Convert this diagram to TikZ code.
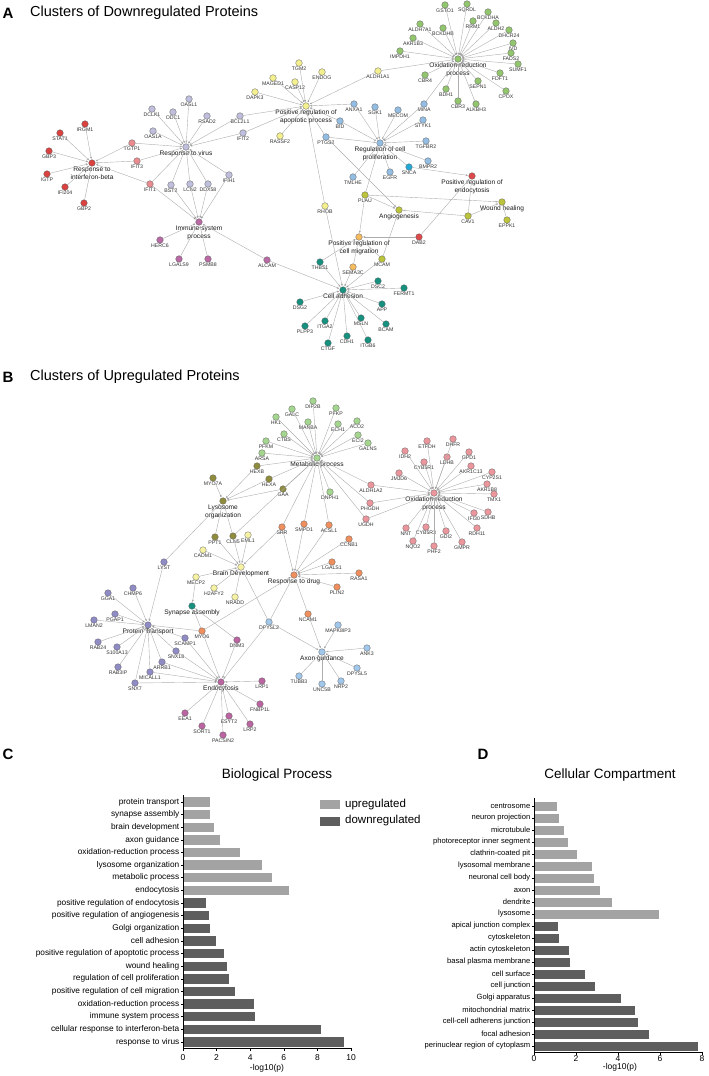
\documentclass[tikz,border=0pt]{standalone}
\usepackage{fontspec}
\setmainfont{Liberation Sans}
\usepackage{tikz}
\usetikzlibrary{arrows.meta}
\definecolor{edgegray}{HTML}{ADADAD}
\definecolor{cIfn}{HTML}{D9423F}
\definecolor{cIfit}{HTML}{EA8B90}
\definecolor{cVir}{HTML}{BFBEDC}
\definecolor{cImm}{HTML}{B96AA5}
\definecolor{cApo}{HTML}{F4F08F}
\definecolor{cPro}{HTML}{94BDE4}
\definecolor{cSnc}{HTML}{22A9D8}
\definecolor{cOxA}{HTML}{92C56D}
\definecolor{cEnA}{HTML}{DC4A4A}
\definecolor{cAng}{HTML}{BCC43B}
\definecolor{cMig}{HTML}{F4BB61}
\definecolor{cAdh}{HTML}{16907F}
\definecolor{cMet}{HTML}{A5D68F}
\definecolor{cLys}{HTML}{8F8D3D}
\definecolor{cOxB}{HTML}{EB969C}
\definecolor{cDrug}{HTML}{EF8F5D}
\definecolor{cBrain}{HTML}{F6F2A4}
\definecolor{cPT}{HTML}{8F8BC5}
\definecolor{cEnB}{HTML}{BA64A1}
\definecolor{cAx}{HTML}{A1C7EA}
\definecolor{upbar}{HTML}{A3A3A3}
\definecolor{downbar}{HTML}{5E5E5E}

\tikzset{
  gene/.style={circle, draw=black!65, line width=0.3pt, minimum size=6.6pt, inner sep=0pt},
  glab/.style={font=\fontsize{5.2}{5.7}\selectfont, text=black!80, inner sep=0.4pt},
  hlab/.style={font=\fontsize{6.6}{8}\selectfont, align=center, inner sep=0.4pt, text=black!90},
  glabel/.style={label={[glab]below:#1}},
  hlabel/.style={label={[hlab]below:#1}},
  link/.style={draw=edgegray, line width=0.4pt, -{Stealth[length=2.4pt,width=1.9pt]}, shorten >=0.6pt},
  plabel/.style={font=\fontsize{15}{15}\selectfont\bfseries, inner sep=0pt},
  ptitle/.style={font=\fontsize{14.5}{16}\selectfont, anchor=west, inner sep=0pt},
  ctitle/.style={font=\fontsize{13.5}{15}\selectfont, inner sep=0pt},
  blab/.style={font=\fontsize{8.3}{9}\selectfont, anchor=east, inner sep=0pt},
  dlab/.style={font=\fontsize{7.6}{8}\selectfont, anchor=east, inner sep=0pt},
  ticklab/.style={font=\fontsize{8.5}{9}\selectfont, inner sep=0pt},
  chartaxis/.style={line width=0.6pt, black},
  % clusters of panel A
  ifn/.style={gene, fill=cIfn}, ifit/.style={gene, fill=cIfit}, vir/.style={gene, fill=cVir},
  imm/.style={gene, fill=cImm}, apo/.style={gene, fill=cApo}, pro/.style={gene, fill=cPro},
  snc/.style={gene, fill=cSnc}, oxa/.style={gene, fill=cOxA}, ena/.style={gene, fill=cEnA},
  ang/.style={gene, fill=cAng}, mig/.style={gene, fill=cMig}, adh/.style={gene, fill=cAdh},
  % clusters of panel B
  met/.style={gene, fill=cMet}, lys/.style={gene, fill=cLys}, oxb/.style={gene, fill=cOxB},
  drug/.style={gene, fill=cDrug}, brain/.style={gene, fill=cBrain}, pt/.style={gene, fill=cPT},
  enb/.style={gene, fill=cEnB}, ax/.style={gene, fill=cAx},
}

\begin{document}
\begin{tikzpicture}[x=1pt, y=-1pt]
    \useasboundingbox (0,0) rectangle (709,1076);
    \node[plabel] at(8,13)(A){A};
    \node[ptitle] at(30,13)(titleA){Clusters of Downregulated Proteins};
    % response to interferon-beta
    \node[ifn, hlabel={Response to\\interferon-beta}] at(92,163)(ifnb){};
    \node[ifn, glabel=STAT1] at(60,133)(STAT1){};
    \node[ifn, glabel=IRGM1] at(85,124)(IRGM1){};
    \node[ifn, glabel=GBP3] at(49,151)(GBP3){};
    \node[ifn, glabel=IGTP] at(47,174)(IGTP){};
    \node[ifn, glabel=IFI204] at(65,187)(IFI204){};
    \node[ifn, glabel=GBP2] at(84,203)(GBP2){};
    \node[ifit, glabel=TGTP1] at(132,143)(TGTP1){};
    \node[ifit, glabel=IFIT3] at(137,161)(IFIT3){};
    \node[ifit, glabel=IFIT1] at(150,184)(IFIT1){};
    % response to virus
    \node[vir, hlabel={Response to virus}] at(186,147)(virus){};
    \node[vir, glabel=DCLK1] at(152,109)(DCLK1){};
    \node[vir, glabel=ODC1] at(173,112)(ODC1){};
    \node[vir, glabel=OASL1] at(189,99)(OASL1){};
    \node[vir, glabel=RSAD2] at(207,116)(RSAD2){};
    \node[vir, glabel=OAS1A] at(153,131)(OAS1A){};
    \node[vir, glabel=BCL2L1] at(240,116)(BCL2L1){};
    \node[vir, glabel=IFIT2] at(243,133)(IFIT2){};
    \node[vir, glabel=BST2] at(171,185)(BST2){};
    \node[vir, glabel=LCN2] at(190,184)(LCN2){};
    \node[vir, glabel=DDX58] at(208,184)(DDX58){};
    \node[vir, glabel=IFIH1] at(229,175)(IFIH1){};
    % immune system process
    \node[imm, hlabel={Immune system\\process}] at(199,222)(immune){};
    \node[imm, glabel=HERC6] at(160,240)(HERC6){};
    \node[imm, glabel=LGALS9] at(179,259)(LGALS9){};
    \node[imm, glabel=PSMB8] at(208,259)(PSMB8){};
    \node[imm, glabel=ALCAM] at(267,260)(ALCAM){};
    % positive regulation of apoptotic process
    \node[apo, hlabel={Positive regulation of\\apoptotic process}] at(306,106)(apop){};
    \node[apo, glabel=TGM2] at(299,63)(TGM2){};
    \node[apo, glabel=ENDOG] at(322,72)(ENDOG){};
    \node[apo, glabel=MAGED1] at(273,78)(MAGED1){};
    \node[apo, glabel=CASP12] at(295,82)(CASP12){};
    \node[apo, glabel=DAPK3] at(255,92)(DAPK3){};
    \node[apo, glabel=RASSF2] at(280,136)(RASSF2){};
    \node[apo, glabel=ALDH1A1] at(378,71)(ALDH1A1){};
    \node[apo, glabel=RHOB] at(325,206)(RHOB){};
    % regulation of cell proliferation
    \node[pro, hlabel={Regulation of cell\\proliferation}] at(380,143)(prolif){};
    \node[pro, glabel=ANXA1] at(354,104)(ANXA1){};
    \node[pro, glabel=BID] at(340,121)(BID){};
    \node[pro, glabel=PTGS2] at(326,137)(PTGS2){};
    \node[pro, glabel=SGK1] at(375,107)(SGK1){};
    \node[pro, glabel=MECOM] at(398,110)(MECOM){};
    \node[pro, glabel=MINA] at(424,104)(MINA){};
    \node[pro, glabel=STYK1] at(423,120)(STYK1){};
    \node[pro, glabel=TGFBR2] at(426,141)(TGFBR2){};
    \node[pro, glabel=BMPR2] at(428,161)(BMPR2){};
    \node[pro, glabel=EGFR] at(390,172)(EGFR){};
    \node[pro, glabel=TMLHE] at(353,177)(TMLHE){};
    \node[snc, glabel=SNCA] at(409,167)(SNCA){};
    % oxidation-reduction process
    \node[oxa, hlabel={Oxidation-reduction\\process}] at(458,59)(oxA){};
    \node[oxa, glabel=GSTO1] at(445,5)(GSTO1){};
    \node[oxa, glabel=SQRDL] at(467,4)(SQRDL){};
    \node[oxa, glabel=BCKDHA] at(488,12)(BCKDHA){};
    \node[oxa, glabel=RRM1] at(473,21)(RRM1){};
    \node[oxa, glabel=ALDH2] at(496,23)(ALDH2){};
    \node[oxa, glabel=DHCR24] at(509,30)(DHCR24){};
    \node[oxa, glabel=ALDH7A1] at(420,24)(ALDH7A1){};
    \node[oxa, glabel=BCKDHB] at(443,28)(BCKDHB){};
    \node[oxa, glabel=AKR1B3] at(413,38)(AKR1B3){};
    \node[oxa, glabel=IMPDH1] at(400,51)(IMPDH1){};
    \node[oxa, glabel=IVD] at(513,43)(IVD){};
    \node[oxa, glabel=FADS2] at(511,53)(FADS2){};
    \node[oxa, glabel=SUMF1] at(518,64)(SUMF1){};
    \node[oxa, glabel=FDFT1] at(500,73)(FDFT1){};
    \node[oxa, glabel=CPOX] at(506,91)(CPOX){};
    \node[oxa, glabel=SEPN1] at(478,81)(SEPN1){};
    \node[oxa, glabel=ALKBH3] at(476,104)(ALKBH3){};
    \node[oxa, glabel=CBR3] at(458,101)(CBR3){};
    \node[oxa, glabel=BDH1] at(446,89)(BDH1){};
    \node[oxa, glabel=CBR4] at(425,75)(CBR4){};
    % endocytosis, wound healing, angiogenesis, migration
    \node[ena, hlabel={Positive regulation of\\endocytosis}] at(472,176)(endoA){};
    \node[ena, glabel=DAB2] at(419,237)(DAB2){};
    \node[ang, hlabel={Wound healing}] at(502,202)(wound){};
    \node[ang, hlabel={Angiogenesis}] at(399,210)(angio){};
    \node[ang, glabel=PLAU] at(365,195)(PLAU){};
    \node[ang, glabel=CAV1] at(468,216)(CAV1){};
    \node[ang, glabel=EPPK1] at(507,220)(EPPK1){};
    \node[ang, glabel=MCAM] at(382,259)(MCAM){};
    \node[mig, hlabel={Positive regulation of\\cell migration}] at(359,237)(migr){};
    \node[mig, glabel=SEMA3C] at(353,267)(SEMA3C){};
    % cell adhesion
    \node[adh, hlabel={Cell adhesion}] at(343,290)(adh){};
    \node[adh, glabel=THBS1] at(320,262)(THBS1){};
    \node[adh, glabel=DSG2] at(300,302)(DSG2){};
    \node[adh, glabel=ITGA2] at(325,321)(ITGA2){};
    \node[adh, glabel=PLPP3] at(305,326)(PLPP3){};
    \node[adh, glabel=CDH1] at(347,336)(CDH1){};
    \node[adh, glabel=CTGF] at(328,343)(CTGF){};
    \node[adh, glabel=DSC2] at(378,281)(DSC2){};
    \node[adh, glabel=FERMT1] at(404,288)(FERMT1){};
    \node[adh, glabel=APP] at(382,304)(APP){};
    \node[adh, glabel=MSLN] at(361,318)(MSLN){};
    \node[adh, glabel=BCAM] at(386,324)(BCAM){};
    \node[adh, glabel=ITGB6] at(368,340)(ITGB6){};
    % links of panel A
    \draw[link] (STAT1) edge (ifnb) (IRGM1) edge (ifnb) (GBP3) edge (ifnb) (IGTP) edge (ifnb) (IFI204) edge (ifnb) (GBP2) edge (ifnb) (TGTP1) edge (ifnb) (IFIT3) edge (ifnb) (IFIT1) edge (ifnb);
    \draw[link] (DCLK1) edge (virus) (ODC1) edge (virus) (OASL1) edge (virus) (RSAD2) edge (virus) (OAS1A) edge (virus) (TGTP1) edge (virus) (IFIT3) edge (virus) (BCL2L1) edge (virus) (IFIT2) edge (virus) (IFIT1) edge (virus) (BST2) edge (virus) (LCN2) edge (virus) (DDX58) edge (virus) (IFIH1) edge (virus);
    \draw[link] (IFIT1) edge (immune) (BST2) edge (immune) (LCN2) edge (immune) (DDX58) edge (immune) (IFIH1) edge (immune) (HERC6) edge (immune) (LGALS9) edge (immune) (PSMB8) edge (immune) (ALCAM) edge (immune);
    \draw[link] (TGM2) edge (apop) (ENDOG) edge (apop) (MAGED1) edge (apop) (CASP12) edge (apop) (DAPK3) edge (apop) (BCL2L1) edge (apop) (IFIT2) edge (apop) (RASSF2) edge (apop) (ALDH1A1) edge (apop) (ANXA1) edge (apop) (BID) edge (apop) (PTGS2) edge (apop) (RHOB) edge (apop);
    \draw[link] (ANXA1) edge (prolif) (BID) edge (prolif) (PTGS2) edge (prolif) (SGK1) edge (prolif) (MECOM) edge (prolif) (MINA) edge (prolif) (STYK1) edge (prolif) (TGFBR2) edge (prolif) (BMPR2) edge (prolif) (SNCA) edge (prolif) (EGFR) edge (prolif) (TMLHE) edge (prolif) (PLAU) edge (prolif);
    \draw[link] (GSTO1) edge (oxA) (SQRDL) edge (oxA) (BCKDHA) edge (oxA) (RRM1) edge (oxA) (ALDH2) edge (oxA) (DHCR24) edge (oxA) (ALDH7A1) edge (oxA) (BCKDHB) edge (oxA) (AKR1B3) edge (oxA) (IMPDH1) edge (oxA) (IVD) edge (oxA) (FADS2) edge (oxA) (SUMF1) edge (oxA) (FDFT1) edge (oxA) (CPOX) edge (oxA) (SEPN1) edge (oxA) (ALKBH3) edge (oxA) (CBR3) edge (oxA) (BDH1) edge (oxA) (CBR4) edge (oxA) (ALDH1A1) edge (oxA) (MINA) edge (oxA);
    \draw[link] (SNCA) edge (endoA) (CAV1) edge (endoA) (DAB2) edge (endoA);
    \draw[link] (PLAU) edge (wound) (CAV1) edge (wound) (EPPK1) edge (wound);
    \draw[link] (PLAU) edge (angio) (PTGS2) edge (angio) (CAV1) edge (angio) (MCAM) edge (angio);
    \draw[link] (PLAU) edge (migr) (DAB2) edge (migr) (SEMA3C) edge (migr) (THBS1) edge (migr) (MCAM) edge (migr);
    \draw[link] (THBS1) edge (adh) (ALCAM) edge (adh) (RHOB) edge (adh) (SEMA3C) edge (adh) (MCAM) edge (adh) (DSC2) edge (adh) (FERMT1) edge (adh) (APP) edge (adh) (MSLN) edge (adh) (BCAM) edge (adh) (ITGB6) edge (adh) (CDH1) edge (adh) (CTGF) edge (adh) (ITGA2) edge (adh) (PLPP3) edge (adh) (DSG2) edge (adh);
    %
    \node[plabel] at(8,377)(B){B};
    \node[ptitle] at(30,377)(titleB){Clusters of Upregulated Proteins};
    % metabolic process
    \node[met, hlabel={Metabolic process}] at(317,458)(metab){};
    \node[met, glabel=DIP2B] at(313,401)(DIP2B){};
    \node[met, glabel=GALC] at(292,409)(GALC){};
    \node[met, glabel=PFKP] at(336,408)(PFKP){};
    \node[met, glabel=HK1] at(276,417)(HK1){};
    \node[met, glabel=MANBA] at(308,422)(MANBA){};
    \node[met, glabel=ECH1] at(338,424)(ECH1){};
    \node[met, glabel=ACO2] at(357,421)(ACO2){};
    \node[met, glabel=CTBS] at(284,434)(CTBS){};
    \node[met, glabel=PFKM] at(266,441)(PFKM){};
    \node[met, glabel=ARSA] at(262,453)(ARSA){};
    \node[met, glabel=ECI2] at(358,435)(ECI2){};
    \node[met, glabel=GALNS] at(368,443)(GALNS){};
    \node[met, glabel=DNPH1] at(330,492)(DNPH1){};
    % lysosome organization
    \node[lys, hlabel={Lysosome\\organization}] at(223,501)(lyso){};
    \node[lys, glabel=HEXB] at(257,466)(HEXB){};
    \node[lys, glabel=HEXA] at(269,479)(HEXA){};
    \node[lys, glabel=GAA] at(283,489)(GAA){};
    \node[lys, glabel=MYO7A] at(213,478)(MYO7A){};
    \node[lys, glabel=PPT1] at(215,537)(PPT1){};
    \node[lys, glabel=CLN5] at(233,536)(CLN5){};
    % oxidation-reduction process
    \node[oxb, hlabel={Oxidation-reduction\\process}] at(434,493)(oxB){};
    \node[oxb, glabel=ETFDH] at(427,441)(ETFDH){};
    \node[oxb, glabel=DHFR] at(453,439)(DHFR){};
    \node[oxb, glabel=IDH2] at(405,451)(IDH2){};
    \node[oxb, glabel=GPD1] at(469,452)(GPD1){};
    \node[oxb, glabel=CYB5R1] at(424,462)(CYB5R1){};
    \node[oxb, glabel=LDHB] at(447,457)(LDHB){};
    \node[oxb, glabel=AKR1C13] at(471,466)(AKR1C13){};
    \node[oxb, glabel=JMJD6] at(399,473)(JMJD6){};
    \node[oxb, glabel=CYP2S1] at(492,472)(CYP2S1){};
    \node[oxb, glabel=AKR1B8] at(487,484)(AKR1B8){};
    \node[oxb, glabel=TMX1] at(494,494)(TMX1){};
    \node[oxb, glabel=ALDH1A2] at(371,485)(ALDH1A2){};
    \node[oxb, glabel=PHGDH] at(370,503)(PHGDH){};
    \node[oxb, glabel=UGDH] at(366,519)(UGDH){};
    \node[oxb, glabel=IFI30] at(474,513)(IFI30){};
    \node[oxb, glabel=SDHB] at(488,512)(SDHB){};
    \node[oxb, glabel=NNT] at(406,528)(NNT){};
    \node[oxb, glabel=CYB5R3] at(426,527)(CYB5R3){};
    \node[oxb, glabel=GDI2] at(446,531)(GDI2){};
    \node[oxb, glabel=RDH11] at(477,528)(RDH11){};
    \node[oxb, glabel=NQO2] at(413,541)(NQO2){};
    \node[oxb, glabel=PHF2] at(434,546)(PHF2){};
    \node[oxb, glabel=GMPR] at(462,542)(GMPR){};
    % response to drug
    \node[drug, hlabel={Response to drug}] at(294,575)(drug){};
    \node[drug, glabel=SRR] at(282,527)(SRR){};
    \node[drug, glabel=SMPD1] at(304,524)(SMPD1){};
    \node[drug, glabel=ACSL1] at(329,525)(ACSL1){};
    \node[drug, glabel=CCNB1] at(349,539)(CCNB1){};
    \node[drug, glabel=LGALS1] at(332,562)(LGALS1){};
    \node[drug, glabel=RASA1] at(359,573)(RASA1){};
    \node[drug, glabel=PLIN2] at(337,587)(PLIN2){};
    \node[drug, glabel=NCAM1] at(308,614)(NCAM1){};
    \node[drug, glabel=MYO6] at(202,631)(MYO6){};
    % brain development, synapse assembly
    \node[brain, hlabel={Brain Development}] at(241,567)(brainD){};
    \node[brain, glabel=EML1] at(248,535)(EML1){};
    \node[brain, glabel=CADM1] at(203,550)(CADM1){};
    \node[brain, glabel=MECP2] at(196,577)(MECP2){};
    \node[brain, glabel=H2AFY2] at(214,588)(H2AFY2){};
    \node[brain, glabel=NRADD] at(235,597)(NRADD){};
    \node[adh, hlabel={Synapse assembly}] at(192,606)(synap){};
    % protein transport
    \node[pt, hlabel={Protein Transport}] at(148,625)(ptrans){};
    \node[pt, glabel=LYST] at(164,562)(LYST){};
    \node[pt, glabel=CHMP6] at(133,588)(CHMP6){};
    \node[pt, glabel=GGA1] at(108,593)(GGA1){};
    \node[pt, glabel=PGAP1] at(115,614)(PGAP1){};
    \node[pt, glabel=LMAN2] at(94,620)(LMAN2){};
    \node[pt, glabel=RAB24] at(98,642)(RAB24){};
    \node[pt, glabel=S100A13] at(117,647)(S100A13){};
    \node[pt, glabel=RAB3IP] at(118,667)(RAB3IP){};
    \node[pt, glabel=SNX7] at(135,683)(SNX7){};
    \node[pt, glabel=MICALL1] at(150,672)(MICALL1){};
    \node[pt, glabel=ARRB1] at(162,662)(ARRB1){};
    \node[pt, glabel=SNX18] at(176,651)(SNX18){};
    \node[pt, glabel=SCAMP1] at(185,638)(SCAMP1){};
    % endocytosis
    \node[enb, hlabel={Endocytosis}] at(221,682)(endoB){};
    \node[enb, glabel=DNM3] at(237,640)(DNM3){};
    \node[enb, glabel=LRP1] at(262,681)(LRP1){};
    \node[enb, glabel=FNBP1L] at(260,704)(FNBP1L){};
    \node[enb, glabel=EEA1] at(185,713)(EEA1){};
    \node[enb, glabel=ESYT2] at(229,716)(ESYT2){};
    \node[enb, glabel=SORT1] at(202,726)(SORT1){};
    \node[enb, glabel=LRP2] at(250,724)(LRP2){};
    \node[enb, glabel=PACSIN2] at(223,735)(PACSIN2){};
    % axon guidance
    \node[ax, hlabel={Axon guidance}] at(322,652)(axon){};
    \node[ax, glabel=DPYSL2] at(269,622)(DPYSL2){};
    \node[ax, glabel=MAPK8IP3] at(338,625)(MAPK8IP3){};
    \node[ax, glabel=ANK3] at(367,648)(ANK3){};
    \node[ax, glabel=DPYSL5] at(357,668)(DPYSL5){};
    \node[ax, glabel=NRP2] at(341,681)(NRP2){};
    \node[ax, glabel=UNC5B] at(322,684)(UNC5B){};
    \node[ax, glabel=TUBB3] at(299,676)(TUBB3){};
    % links of panel B
    \draw[link] (DIP2B) edge (metab) (GALC) edge (metab) (PFKP) edge (metab) (HK1) edge (metab) (MANBA) edge (metab) (ECH1) edge (metab) (ACO2) edge (metab) (CTBS) edge (metab) (PFKM) edge (metab) (ARSA) edge (metab) (ECI2) edge (metab) (GALNS) edge (metab) (DNPH1) edge (metab) (HEXB) edge (metab) (HEXA) edge (metab) (GAA) edge (metab) (ALDH1A2) edge (metab) (PHGDH) edge (metab) (UGDH) edge (metab) (SRR) edge (metab) (SMPD1) edge (metab) (ACSL1) edge (metab) (CLN5) edge (metab);
    \draw[link] (MYO7A) edge (lyso) (HEXB) edge (lyso) (HEXA) edge (lyso) (GAA) edge (lyso) (PPT1) edge (lyso) (CLN5) edge (lyso) (LYST) edge (lyso);
    \draw[link] (ETFDH) edge (oxB) (DHFR) edge (oxB) (IDH2) edge (oxB) (GPD1) edge (oxB) (CYB5R1) edge (oxB) (LDHB) edge (oxB) (AKR1C13) edge (oxB) (JMJD6) edge (oxB) (CYP2S1) edge (oxB) (AKR1B8) edge (oxB) (TMX1) edge (oxB) (ALDH1A2) edge (oxB) (PHGDH) edge (oxB) (UGDH) edge (oxB) (IFI30) edge (oxB) (SDHB) edge (oxB) (NNT) edge (oxB) (CYB5R3) edge (oxB) (GDI2) edge (oxB) (RDH11) edge (oxB) (NQO2) edge (oxB) (PHF2) edge (oxB) (GMPR) edge (oxB);
    \draw[link] (PPT1) edge (brainD) (CLN5) edge (brainD) (EML1) edge (brainD) (CADM1) edge (brainD) (MECP2) edge (brainD) (H2AFY2) edge (brainD) (NRADD) edge (brainD) (DPYSL2) edge (brainD) (SRR) edge (brainD);
    \draw[link] (SRR) edge (drug) (SMPD1) edge (drug) (ACSL1) edge (drug) (CCNB1) edge (drug) (LGALS1) edge (drug) (RASA1) edge (drug) (PLIN2) edge (drug) (NCAM1) edge (drug) (DPYSL2) edge (drug) (MYO6) edge (drug);
    \draw[link] (MECP2) edge (synap) (MYO6) edge (synap) (DNM3) edge (synap);
    \draw[link] (LYST) edge (ptrans) (CHMP6) edge (ptrans) (GGA1) edge (ptrans) (PGAP1) edge (ptrans) (LMAN2) edge (ptrans) (RAB24) edge (ptrans) (S100A13) edge (ptrans) (RAB3IP) edge (ptrans) (SNX7) edge (ptrans) (MICALL1) edge (ptrans) (ARRB1) edge (ptrans) (SNX18) edge (ptrans) (SCAMP1) edge (ptrans) (MYO6) edge (ptrans);
    \draw[link] (SCAMP1) edge (endoB) (SNX18) edge (endoB) (ARRB1) edge (endoB) (MICALL1) edge (endoB) (SNX7) edge (endoB) (MYO6) edge (endoB) (DNM3) edge (endoB) (DPYSL2) edge (endoB) (LRP1) edge (endoB) (FNBP1L) edge (endoB) (EEA1) edge (endoB) (ESYT2) edge (endoB) (SORT1) edge (endoB) (LRP2) edge (endoB) (PACSIN2) edge (endoB);
    \draw[link] (DPYSL2) edge (axon) (NCAM1) edge (axon) (MAPK8IP3) edge (axon) (ANK3) edge (axon) (DPYSL5) edge (axon) (NRP2) edge (axon) (UNC5B) edge (axon) (TUBB3) edge (axon);
    %
    % C: biological process
    \node[plabel] at(8,754)(C){C};
    \node[ctitle] at(277,775)(bpTitle){Biological Process};
    \foreach \lab/\val [count=\i from 0] in {protein transport/1.6, synapse assembly/1.6, brain development/1.87, axon guidance/2.22, oxidation-reduction process/3.39, lysosome organization/4.72, metabolic process/5.32, endocytosis/6.33}{
        \fill[upbar] (183,{797.3+12.63*\i}) rectangle ++({16.8*\val},9.4);
        \draw[chartaxis] (183,{802+12.63*\i}) -- ++(-2.5,0);
        \node[blab] at(179.5,{802+12.63*\i})(bp\i){\lab};
    }
    \foreach \lab/\val [count=\i from 8] in {positive regulation of endocytosis/1.35, positive regulation of angiogenesis/1.53, Golgi organization/1.6, cell adhesion/1.94, positive regulation of apoptotic process/2.44, wound healing/2.64, regulation of cell proliferation/2.76, positive regulation of cell migration/3.1, oxidation-reduction process/4.23, immune system process/4.31, cellular response to interferon-beta/8.24, response to virus/9.59}{
        \fill[downbar] (183,{797.3+12.63*\i}) rectangle ++({16.8*\val},9.4);
        \draw[chartaxis] (183,{802+12.63*\i}) -- ++(-2.5,0);
        \node[blab] at(179.5,{802+12.63*\i})(bp\i){\lab};
    }
    \draw[chartaxis] (183,795) -- (183,1048) -- (351,1048);
    \foreach \t in {0,2,...,10}{
        \draw[chartaxis] ({183+16.8*\t},1048) -- ++(0,3);
        \node[ticklab] at({183+16.8*\t},1057.5)(bpt\t){\t};
    }
    \node[ticklab] at(267,1068)(bpX){-log10(p)};
    % legend
    \fill[upbar] (320,800) rectangle (340,809);
    \fill[downbar] (320,816.5) rectangle (340,825.5);
    \node[font=\fontsize{11.5}{12}\selectfont, anchor=west, inner sep=0pt] at(345,804.5)(upL){upregulated};
    \node[font=\fontsize{11.5}{12}\selectfont, anchor=west, inner sep=0pt] at(345,821)(downL){downregulated};
    %
    % D: cellular compartment
    \node[plabel] at(483,754)(D){D};
    \node[ctitle] at(610,775)(ccTitle){Cellular Compartment};
    \foreach \lab/\val [count=\i from 0] in {centrosome/1.11, neuron projection/1.21, microtubule/1.43, photoreceptor inner segment/1.63, clathrin-coated pit/2.06, lysosomal membrane/2.78, neuronal cell body/2.84, axon/3.13, dendrite/3.7, lysosome/5.95}{
        \fill[upbar] (534,{801.5+12*\i}) rectangle ++({21*\val},9);
        \draw[chartaxis] (534,{806+12*\i}) -- ++(-2.5,0);
        \node[dlab] at(530.5,{806+12*\i})(cc\i){\lab};
    }
    \foreach \lab/\val [count=\i from 10] in {apical junction complex/1.13, cytoskeleton/1.21, actin cytoskeleton/1.68, basal plasma membrane/1.73, cell surface/2.44, cell junction/2.89, Golgi apparatus/4.13, mitochondrial matrix/4.83, cell-cell adherens junction/4.95, focal adhesion/5.49, perinuclear region of cytoplasm/7.81}{
        \fill[downbar] (534,{801.5+12*\i}) rectangle ++({21*\val},9);
        \draw[chartaxis] (534,{806+12*\i}) -- ++(-2.5,0);
        \node[dlab] at(530.5,{806+12*\i})(cc\i){\lab};
    }
    \draw[chartaxis] (534,798) -- (534,1052) -- (702,1052);
    \foreach \t in {0,2,...,8}{
        \draw[chartaxis] ({534+21*\t},1052) -- ++(0,3);
        \node[ticklab] at({534+21*\t},1059)(cct\t){\t};
    }
    \node[ticklab] at(620,1067)(ccX){-log10(p)};
\end{tikzpicture}
\end{document}
